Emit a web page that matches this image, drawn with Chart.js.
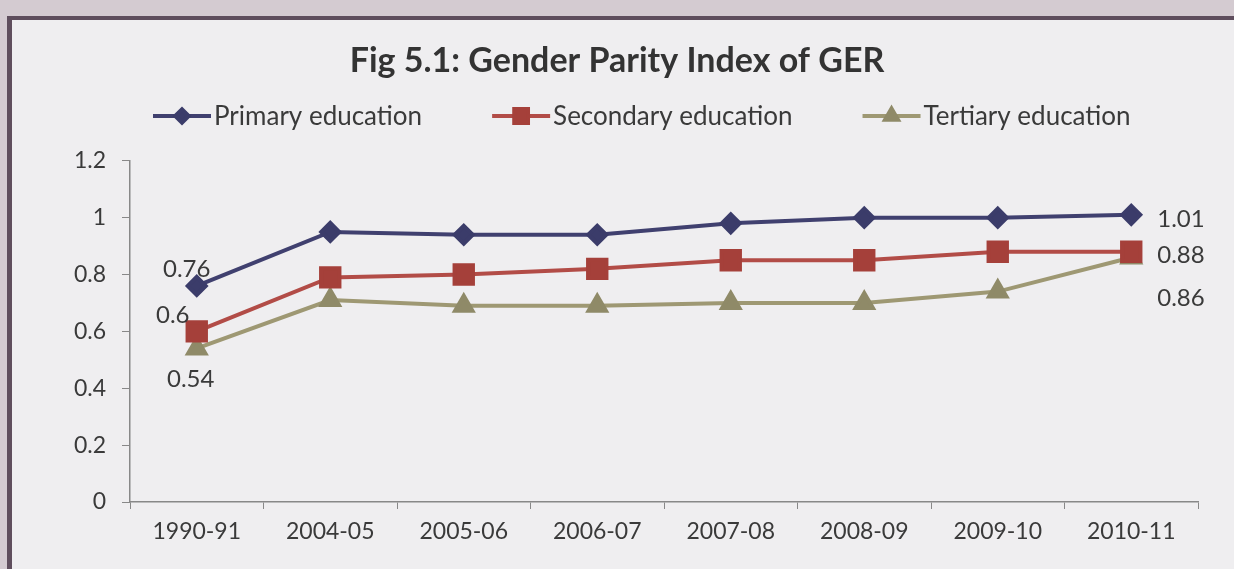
<!DOCTYPE html>
<html>
<head>
<meta charset="utf-8">
<script src="https://cdn.jsdelivr.net/npm/chart.js@4.4.0/dist/chart.umd.min.js"></script>
<style>
  html, body { margin: 0; padding: 0; }
  body { width: 1234px; height: 569px; background: #d4cbd1; position: relative; overflow: hidden; }
  #frame {
    position: absolute; left: 7px; top: 16px; right: 0; bottom: 0;
    background: #efeef0;
    border-left: 5px solid #5f4e5d;
    border-top: 4px solid #5f4e5d;
  }
  #wrap { position: absolute; left: 0; top: 0; width: 1234px; height: 569px; }
</style>
</head>
<body>
<div id="frame"></div>
<div id="wrap"><canvas id="gpiChart"></canvas></div>
<script>
// Data
const years = ['1990-91', '2004-05', '2005-06', '2006-07', '2007-08', '2008-09', '2009-10', '2010-11'];
const primary = [0.76, 0.95, 0.94, 0.94, 0.98, 1.00, 1.00, 1.01];
const secondary = [0.60, 0.79, 0.80, 0.82, 0.85, 0.85, 0.88, 0.88];
const tertiary = [0.54, 0.71, 0.69, 0.69, 0.70, 0.70, 0.74, 0.86];
const yTicks = [0, 0.2, 0.4, 0.6, 0.8, 1, 1.2];

const FONT = 'Lato, "Open Sans", sans-serif';

// Legend drawn like Excel: line with marker in the middle
const legendPlugin = {
    id: 'excelLegend',
    afterDraw(chart) {
        const ctx = chart.ctx;
        let x = 153;
        const y = 116;
        ctx.save();
        ctx.font = '26px ' + FONT;
        ctx.textBaseline = 'middle';
        chart.data.datasets.forEach(ds => {
            ctx.strokeStyle = ds.borderColor;
            ctx.lineWidth = 4;
            ctx.beginPath();
            ctx.moveTo(x, y);
            ctx.lineTo(x + 58, y);
            ctx.stroke();
            ctx.fillStyle = ds.pointBackgroundColor;
            ctx.strokeStyle = ds.pointBackgroundColor;
            Chart.helpers.drawPoint(ctx, {
                pointStyle: ds.pointStyle,
                radius: ds.pointRadius * 0.75,
                borderWidth: 1
            }, x + 29, y);
            ctx.fillStyle = '#3a3a3a';
            ctx.fillText(ds.label, x + 61, y + 1);
            x += 61 + ctx.measureText(ds.label).width + 70;
        });
        ctx.restore();
    }
};

// Value labels at the first and last points
const valueLabels = [
    { ds: 0, i: 0, dx: -10, dy: -17, align: 'center' },
    { ds: 1, i: 0, dx: -24, dy: -16, align: 'center' },
    { ds: 2, i: 0, dx: -6, dy: 31, align: 'center' },
    { ds: 0, i: 7, dx: 26, dy: 4, align: 'left' },
    { ds: 1, i: 7, dx: 26, dy: 3, align: 'left' },
    { ds: 2, i: 7, dx: 26, dy: 41, align: 'left' }
];

const labelPlugin = {
    id: 'valueLabels',
    afterDatasetsDraw(chart) {
        const ctx = chart.ctx;
        ctx.save();
        ctx.font = '24px ' + FONT;
        ctx.fillStyle = '#3a3a3a';
        ctx.textBaseline = 'middle';
        valueLabels.forEach(l => {
            const pt = chart.getDatasetMeta(l.ds).data[l.i];
            const v = chart.data.datasets[l.ds].data[l.i];
            ctx.textAlign = l.align;
            ctx.fillText(String(v), pt.x + l.dx, pt.y + l.dy);
        });
        ctx.restore();
    }
};

const ctx = document.getElementById('gpiChart').getContext('2d');
new Chart(ctx, {
    type: 'line',
    data: {
        labels: years,
        datasets: [{
            label: 'Primary education',
            data: primary,
            borderColor: '#40406f',
            pointBackgroundColor: '#3b3c6a',
            pointBorderColor: '#3b3c6a',
            pointStyle: 'rectRot',
            pointRadius: 9,
            borderWidth: 4
        }, {
            label: 'Secondary education',
            data: secondary,
            borderColor: '#b24c47',
            pointBackgroundColor: '#a5403a',
            pointBorderColor: '#a5403a',
            pointStyle: 'rect',
            pointRadius: 13,
            borderWidth: 4
        }, {
            label: 'Tertiary education',
            data: tertiary,
            borderColor: '#9e9873',
            pointBackgroundColor: '#8f8a68',
            pointBorderColor: '#8f8a68',
            pointStyle: 'triangle',
            pointRadius: 10,
            borderWidth: 4
        }]
    },
    options: {
        responsive: true,
        maintainAspectRatio: false,
        animation: false,
        clip: false,
        layout: { padding: { left: 36, right: 36, top: 0, bottom: 0 } },
        plugins: {
            legend: { display: false },
            tooltip: { enabled: false },
            title: {
                display: true,
                text: 'Fig 5.1: Gender Parity Index of GER',
                color: '#333333',
                font: { family: FONT, size: 34, weight: 'bold' },
                padding: { top: 41, bottom: 79 }
            }
        },
        scales: {
            x: {
                offset: true,
                grid: { offset: true, drawOnChartArea: false, drawTicks: true, tickLength: 7, color: '#888888' },
                border: { color: '#888888', width: 1.5 },
                ticks: { color: '#3a3a3a', font: { family: FONT, size: 23 }, padding: 9, maxRotation: 0 },
                afterFit(scale) { scale.height = 67; }
            },
            y: {
                min: 0,
                max: 1.2,
                afterBuildTicks(scale) { scale.ticks = yTicks.map(v => ({ value: v })); },
                grid: { drawOnChartArea: false, drawTicks: true, tickLength: 8, color: '#888888' },
                border: { color: '#888888', width: 1.5 },
                ticks: {
                    color: '#3a3a3a',
                    font: { family: FONT, size: 23 },
                    padding: 16,
                    callback: v => String(+v.toFixed(1))
                },
                afterFit(scale) { scale.width = 94; }
            }
        }
    },
    plugins: [labelPlugin, legendPlugin]
});
</script>
</body>
</html>
